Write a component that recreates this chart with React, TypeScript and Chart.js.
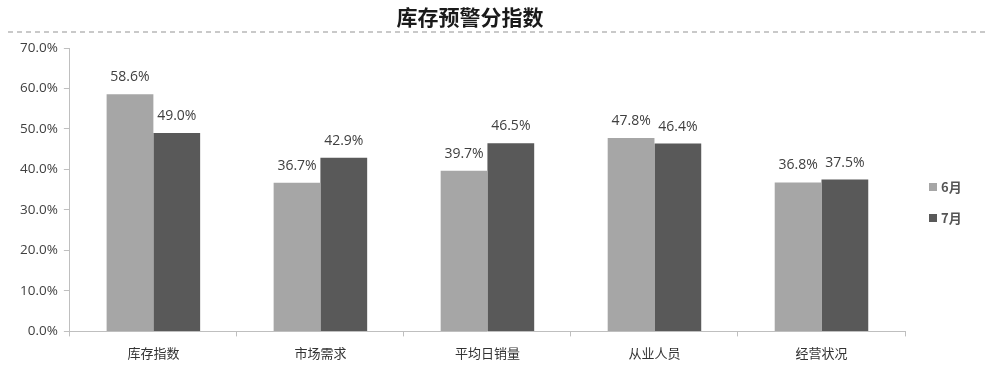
import React, { useEffect, useRef } from "react";
import { Chart, registerables } from "chart.js";

Chart.register(...registerables);

const title = "库存预警分指数";
const categories = ["库存指数", "市场需求", "平均日销量", "从业人员", "经营状况"];
const juneValues = [58.6, 36.7, 39.7, 47.8, 36.8];
const julyValues = [49.0, 42.9, 46.5, 46.4, 37.5];
const seriesNames = ["6月", "7月"];
const seriesColors = ["#a6a6a6", "#595959"];
const yTicks = [0, 10, 20, 30, 40, 50, 60, 70];

const FONT = "'Noto Sans CJK SC', 'Open Sans', sans-serif";

const overlayPlugin = {
  id: "overlay",
  afterDraw(chart: any) {
    const ctx = chart.ctx;
    ctx.save();
    // title
    ctx.fillStyle = "#1a1a1a";
    ctx.font = `bold 21px ${FONT}`;
    ctx.textAlign = "center";
    ctx.textBaseline = "middle";
    ctx.fillText(title, 470, 17);
    // dashed line
    ctx.strokeStyle = "#b8b8b8";
    ctx.lineWidth = 1.5;
    ctx.setLineDash([5, 4]);
    ctx.beginPath();
    ctx.moveTo(8, 32);
    ctx.lineTo(985, 32);
    ctx.stroke();
    ctx.setLineDash([]);
    // data labels
    ctx.font = `14px 'Open Sans', sans-serif`;
    ctx.fillStyle = "#404040";
    ctx.textBaseline = "bottom";
    chart.data.datasets.forEach((ds: any, di: number) => {
      const meta = chart.getDatasetMeta(di);
      meta.data.forEach((bar: any, i: number) => {
        const v = ds.data[i];
        ctx.fillText(v.toFixed(1) + "%", bar.x, bar.y - 10);
      });
    });
    // legend
    ctx.textAlign = "left";
    ctx.textBaseline = "middle";
    ctx.font = `bold 13px ${FONT}`;
    seriesNames.forEach((name, i) => {
      const y = 187 + i * 31;
      ctx.fillStyle = seriesColors[i];
      ctx.fillRect(929, y - 4, 8, 8);
      ctx.fillStyle = "#555555";
      ctx.fillText(name, 941, y);
    });
    ctx.restore();
  },
};

export default function App() {
  const ref = useRef<HTMLCanvasElement | null>(null);
  useEffect(() => {
    document.body.style.margin = "0";
    const chart = new Chart(ref.current!, {
      type: "bar",
      data: {
        labels: categories,
        datasets: [
          { label: seriesNames[0], data: juneValues, backgroundColor: seriesColors[0] },
          { label: seriesNames[1], data: julyValues, backgroundColor: seriesColors[1] },
        ],
      },
      options: {
        animation: false,
        responsive: false,
        layout: { padding: { top: 48, right: 98, bottom: 6, left: 14 } },
        datasets: { bar: { categoryPercentage: 0.56, barPercentage: 1 } },
        plugins: { legend: { display: false }, title: { display: false }, tooltip: { enabled: false } },
        scales: {
          x: {
            grid: { drawOnChartArea: false, drawTicks: true, tickLength: 5, offset: true, color: "#bfbfbf" },
            border: { color: "#bfbfbf" },
            ticks: { color: "#333333", font: { family: FONT, size: 13 }, padding: 9 },
          },
          y: {
            min: 0,
            max: 70,
            afterBuildTicks: (axis: any) => {
              axis.ticks = yTicks.map((v) => ({ value: v }));
            },
            grid: { drawOnChartArea: false, drawTicks: true, tickLength: 6, color: "#bfbfbf" },
            border: { color: "#bfbfbf" },
            ticks: {
              color: "#404040",
              font: { family: "'Open Sans', sans-serif", size: 13.5 },
              padding: 6,
              callback: (v: any) => Number(v).toFixed(1) + "%",
            },
          },
        },
      },
      plugins: [overlayPlugin],
    });
    return () => chart.destroy();
  }, []);
  return <canvas ref={ref} width={1003} height={376} style={{ display: "block" }} />;
}
